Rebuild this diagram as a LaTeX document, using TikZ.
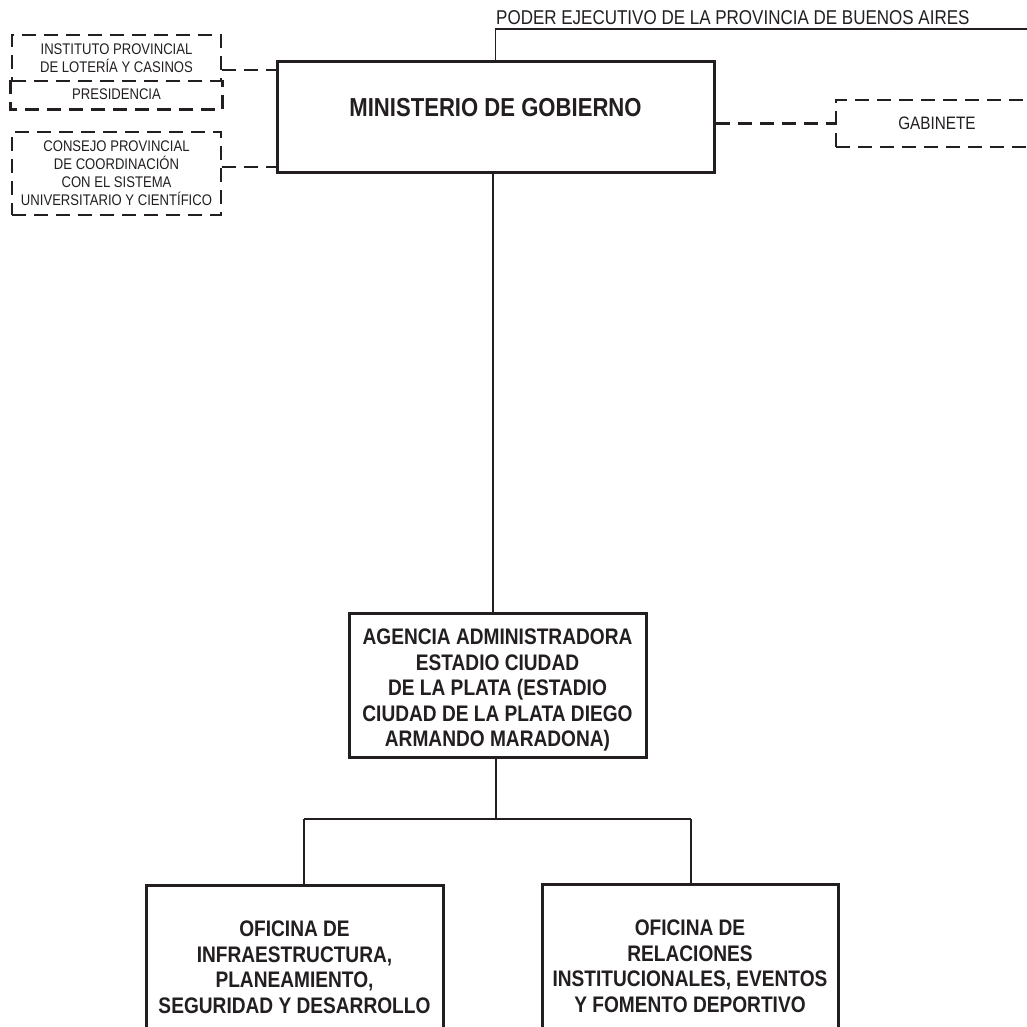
\documentclass[tikz,border=0pt]{standalone}
\usepackage{fontspec}
\setmainfont{Liberation Sans}[FakeStretch=0.85]
\definecolor{ink}{HTML}{231F20}
\begin{document}
\begin{tikzpicture}[x=1pt,y=-1pt,
  solidbox/.style={draw=ink, line width=3pt, inner sep=0pt, align=center, text=ink},
  dashbox/.style={draw=ink, line width=2.8pt, dash pattern=on 14pt off 8pt, inner sep=0pt, align=center, text=ink,
    font=\fontsize{15.4pt}{18pt}\selectfont},
  link/.style={draw=ink, line width=1.3pt},
  dashlink/.style={draw=ink, line width=2.8pt, dash pattern=on 14pt off 8pt},
  bigfont/.style={font=\bfseries\fontsize{22.5pt}{25.5pt}\selectfont}]
\useasboundingbox (0,0) rectangle (1027,1027);
\clip (0,0) rectangle (1027,1027);
\fill[white] (0,0) rectangle (1027,1027);

% title
\node[anchor=base west, inner sep=0pt, text=ink, font=\fontsize{20pt}{24pt}\selectfont] (poder) at (496,25)
  {PODER EJECUTIVO DE LA PROVINCIA DE BUENOS AIRES};
\coordinate (poderend) at (1030,29);

% main box
\node[solidbox, minimum width=437pt, minimum height=111pt, text height=19pt, text depth=20pt,
  font=\bfseries\fontsize{26pt}{30pt}\selectfont] (mgob) at (495.5,117.5) {MINISTERIO DE GOBIERNO};

% dashed side boxes
\node[dashbox, minimum width=209pt, minimum height=46pt] (loteria) at (116.5,58)
  {INSTITUTO PROVINCIAL\\DE LOTERÍA Y CASINOS};
\node[dashbox, draw=none, minimum width=209pt, minimum height=27pt] (presid) at (116.5,94.5) {PRESIDENCIA};
\draw[dashlink] (presid.north west) -- (presid.south west) -- (presid.south east) -- (presid.north east);
\node[dashbox, minimum width=209pt, minimum height=83pt] (consejo) at (116.5,173.5)
  {CONSEJO PROVINCIAL\\DE COORDINACIÓN\\CON EL SISTEMA\\UNIVERSITARIO Y CIENTÍFICO};
\node[dashbox, minimum width=202pt, minimum height=47pt, font=\fontsize{18pt}{21pt}\selectfont] (gab) at (937,123.5) {GABINETE};

% agency and offices
\node[solidbox, bigfont, minimum width=297pt, minimum height=144pt] (agencia) at (497.5,685)
  {\rule{0pt}{26.5pt}AGENCIA ADMINISTRADORA\\ESTADIO CIUDAD\\DE LA PLATA (ESTADIO\\CIUDAD DE LA PLATA DIEGO\\ARMANDO MARADONA)};
\node[solidbox, bigfont, minimum width=297pt, minimum height=164pt] (infra) at (294.5,967)
  {OFICINA DE\\INFRAESTRUCTURA,\\PLANEAMIENTO,\\SEGURIDAD Y DESARROLLO};
\node[solidbox, bigfont, minimum width=296pt, minimum height=164pt] (relac) at (690,966)
  {OFICINA DE\\RELACIONES\\INSTITUCIONALES, EVENTOS\\Y FOMENTO DEPORTIVO};

% connectors
\draw[link] (mgob.north) |- (poderend);
\coordinate (cl1) at ([yshift=47.5pt]mgob.west);
\coordinate (cl2) at ([yshift=-49.5pt]mgob.west);
\draw[dashlink] (loteria.east |- cl1) -- (cl1);
\draw[dashlink] (consejo.east |- cl2) -- (cl2);
\draw[dashlink] (gab.west -| mgob.east) -- (gab.west);
\draw[link] ([xshift=-4.5pt]agencia.north) -- ([xshift=-4.5pt]agencia.north |- mgob.south);
\coordinate (jl) at (304,819);
\coordinate (jr) at (691,819);
\draw[link] ([xshift=-1.5pt]agencia.south) -- ([xshift=-1.5pt]agencia.south |- jl);
\draw[link] (jl) -- (jr);
\draw[link] (jl) -- (jl |- infra.north);
\draw[link] (jr) -- (jr |- relac.north);
\end{tikzpicture}
\end{document}
